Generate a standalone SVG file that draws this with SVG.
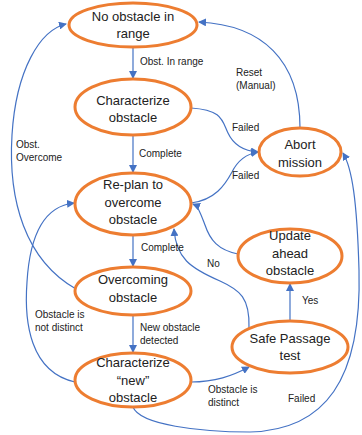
<svg xmlns="http://www.w3.org/2000/svg" width="362" height="435" viewBox="0 0 362 435">
<defs>
<marker id="ah" markerWidth="8" markerHeight="8" refX="7" refY="4" orient="auto" markerUnits="userSpaceOnUse">
<path d="M0,0 L8,4 L0,8 Z" fill="#4472C4"/>
</marker>
<style>
.node ellipse{fill:#fff;stroke:#ED7D31;stroke-width:3}
.node text{font-family:"Liberation Sans",Arial,sans-serif;font-size:13px;fill:#222;text-anchor:middle}
.conn path{fill:none;stroke:#4472C4;stroke-width:1.2;marker-end:url(#ah)}
.lbl{font-family:"Liberation Sans",Arial,sans-serif;font-size:10px;fill:#222}
</style>
</defs>
<rect width="362" height="435" fill="#fff"/>
<g id="connectors" class="conn">
<path d="M133,47 L133,78"/>
<path d="M133,136 L133,172"/>
<path d="M133,236 L133,266"/>
<path d="M133,316 L133,352"/>
<path d="M191,108 C222,110 222,120 228,133 C234,146 244,151 258,152"/>
<path d="M191,203 C215,200 225,185 232,172 C238,160 246,154 258,152"/>
<path d="M300,128 C300,60 262,25 199,22"/>
<path d="M76,289 C25,260 8,200 12,135 C16,70 40,30 66,24"/>
<path d="M75,382 C30,372 24,322 27,282 C30,232 45,206 74,203"/>
<path d="M191,382 C215,382 232,376 249,367"/>
<path d="M290,321 L290,284"/>
<path d="M238,254 C218,250 210,240 205,225 C200,212 198,206 193,204"/>
<path d="M249,328 C250,298 240,290 220,281 C190,268 176,258 174,229"/>
<path d="M133,407 C140,425 200,432 250,432 C325,430 362,380 359,270 C357,200 352,168 343,153"/>
</g>
<g id="labels">
<text class="lbl" x="140" y="65">Obst. In range</text>
<text class="lbl" x="236" y="76">Reset</text>
<text class="lbl" x="236" y="89">(Manual)</text>
<text class="lbl" x="232" y="131">Failed</text>
<text class="lbl" x="16" y="148">Obst.</text>
<text class="lbl" x="16" y="161">Overcome</text>
<text class="lbl" x="139" y="157">Complete</text>
<text class="lbl" x="232" y="179">Failed</text>
<text class="lbl" x="141" y="251">Complete</text>
<text class="lbl" x="207" y="267">No</text>
<text class="lbl" x="302" y="304">Yes</text>
<text class="lbl" x="35" y="318">Obstacle is</text>
<text class="lbl" x="35" y="331">not distinct</text>
<text class="lbl" x="140" y="331">New obstacle</text>
<text class="lbl" x="140" y="344">detected</text>
<text class="lbl" x="208" y="393">Obstacle is</text>
<text class="lbl" x="208" y="406">distinct</text>
<text class="lbl" x="288" y="402">Failed</text>
</g>
<g id="n1" class="node"><ellipse cx="133" cy="25" rx="64" ry="22"/><text x="133" y="20.5">No obstacle in</text><text x="133" y="38">range</text></g>
<g id="n2" class="node"><ellipse cx="133" cy="107" rx="58" ry="28"/><text x="133" y="104.5">Characterize</text><text x="133" y="122">obstacle</text></g>
<g id="n3" class="node"><ellipse cx="133" cy="204" rx="58" ry="31"/><text x="133" y="189">Re-plan to</text><text x="133" y="207">overcome</text><text x="133" y="224">obstacle</text></g>
<g id="n4" class="node"><ellipse cx="133" cy="291" rx="58" ry="24"/><text x="133" y="284">Overcoming</text><text x="133" y="302">obstacle</text></g>
<g id="n5" class="node"><ellipse cx="133" cy="380" rx="58" ry="27"/><text x="133" y="367">Characterize</text><text x="133" y="385">“new”</text><text x="133" y="402">obstacle</text></g>
<g id="n6" class="node"><ellipse cx="300" cy="152" rx="41" ry="24"/><text x="300" y="149">Abort</text><text x="300" y="167">mission</text></g>
<g id="n7" class="node"><ellipse cx="290" cy="256" rx="52" ry="27"/><text x="290" y="240">Update</text><text x="290" y="258">ahead</text><text x="290" y="275">obstacle</text></g>
<g id="n8" class="node"><ellipse cx="290" cy="347" rx="58" ry="26"/><text x="290" y="343">Safe Passage</text><text x="290" y="360">test</text></g>
</svg>
